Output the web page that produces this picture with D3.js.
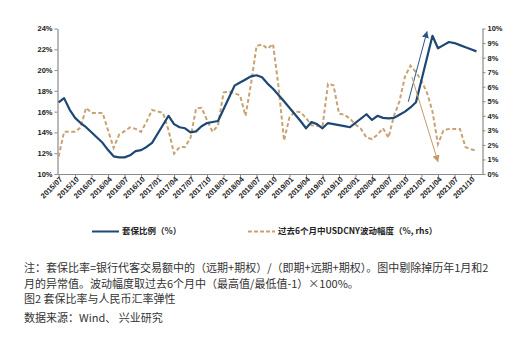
<!DOCTYPE html>
<html><head><meta charset="utf-8">
<script src="https://cdn.jsdelivr.net/npm/d3@7"></script>
<style>
body{margin:0;background:#fff;}
svg{display:block;}
</style></head>
<body>
<svg id="chart" width="532" height="341"></svg>
<script>
// Monthly data, 2015/07 .. 2021/11 (index 0 = 2015/07). Jan/Feb hedge ratio removed (null).
const hedgeRatio = [
  16.9,17.3,16.2,15.4,14.9,14.5,null,null,13.0,12.3,11.7,11.6,
  11.6,11.8,12.2,12.3,12.6,13.0,null,null,15.6,14.8,14.5,14.4,
  14.0,14.1,14.6,14.9,15.0,15.1,null,null,18.5,18.8,19.1,19.4,
  19.5,19.3,18.7,18.2,17.6,17.0,null,null,15.1,14.4,15.0,14.8,
  14.4,14.9,14.8,14.7,14.6,14.5,null,null,15.75,15.2,15.6,15.4,
  15.35,15.4,15.7,16.0,16.4,16.9,null,null,23.3,22.1,22.4,22.7,
  22.6,22.4,22.2,22.0,21.8
];
const usdcnyVol = [
  1.2,2.9,2.9,2.9,3.2,4.55,4.2,4.2,4.2,3.0,1.8,2.7,
  2.95,3.2,3.1,2.9,3.6,4.4,4.3,4.2,3.0,1.4,1.85,1.85,
  2.5,4.5,4.55,3.7,2.9,3.35,5.6,5.68,5.55,5.4,4.0,6.2,
  8.8,8.9,8.62,8.94,6.0,2.3,3.9,4.3,4.25,3.85,3.35,3.3,
  3.26,6.2,6.1,4.15,4.07,3.8,3.4,3.1,2.5,2.4,2.7,3.15,
  2.5,4.0,5.0,6.7,7.45,7.0,6.4,5.6,4.3,2.05,3.0,3.1,
  3.1,3.1,1.85,1.7,1.6
];
const xTickLabels = ["2015/07","2015/10","2016/01","2016/04","2016/07","2016/10","2017/01","2017/04","2017/07","2017/10","2018/01","2018/04","2018/07","2018/10","2019/01","2019/04","2019/07","2019/10","2020/01","2020/04","2020/07","2020/10","2021/01","2021/04","2021/07","2021/10"];
const leftTicks = [10,12,14,16,18,20,22,24];
const rightTicks = [0,1,2,3,4,5,6,7,8,9,10];
const seriesNames = ["套保比例（%）","过去6个月中USDCNY波动幅度（%, rhs）"];
// annotation arrows: [month index, value] start -> end
const blueArrow = [[63.6,16.95],[67.0,23.7]];
const orangeArrow = [[64.25,6.67],[69.0,0.85]];
const notes = [
  "注：套保比率=银行代客交易额中的（远期+期权）/（即期+远期+期权）。图中剔除掉历年1月和2",
  "月的异常值。波动幅度取过去6个月中（最高值/最低值-1）×100%。",
  "图2 套保比率与人民币汇率弹性",
  "数据来源：Wind、 兴业研究"
];

const BLUE = "#1d4775", ORANGE = "#c9a273", AXIS = "#8a8a8a";
const svg = d3.select("#chart");
const pL = 57.5, pR = 482.5, pT = 28.5, pB = 174;

const x = d3.scaleLinear().domain([-0.2, 77.1]).range([pL, pR]);
const yL = d3.scaleLinear().domain([10, 24]).range([pB, pT]);
const yR = d3.scaleLinear().domain([0, 10]).range([pB, pT]);

const fontLat = "Arial, 'Liberation Sans', sans-serif";

const gL = svg.append("g").attr("transform", `translate(${pL},0)`)
  .call(d3.axisLeft(yL).tickValues(leftTicks).tickFormat(d => d + "%").tickSize(3).tickSizeOuter(0));
const gR = svg.append("g").attr("transform", `translate(${pR},0)`)
  .call(d3.axisRight(yR).tickValues(rightTicks).tickFormat(d => d + "%").tickSize(3).tickSizeOuter(0));
const xTickVals = xTickLabels.map((d, i) => i * 3);
const gB = svg.append("g").attr("transform", `translate(0,${pB})`)
  .call(d3.axisBottom(x).tickValues(xTickVals).tickFormat((d, i) => xTickLabels[i]).tickSize(3).tickSizeOuter(0));
gB.select(".domain").attr("d", `M${pL},0.5H${pR}`);

[gL, gR, gB].forEach(g => {
  g.selectAll(".domain").attr("stroke", AXIS).attr("stroke-width", 1.2);
  g.selectAll(".tick line").attr("stroke", AXIS);
  g.selectAll("text").attr("fill", "#222").style("font-family", fontLat)
    .style("font-weight", "bold").style("font-size", "7.5px");
});
gL.selectAll("text").attr("x", -5);
gR.selectAll("text").attr("x", 5);
gB.selectAll("text")
  .attr("text-anchor", "end")
  .attr("transform", "translate(2,4) rotate(-45)")
  .attr("dy", "0.35em").attr("y", 0).attr("x", 0);

const blueData = hedgeRatio.map((v, i) => [i, v]).filter(d => d[1] !== null);
const lineL = d3.line().x(d => x(d[0])).y(d => yL(d[1]));
const lineR = d3.line().x(d => x(d[0])).y(d => yR(d[1]));
svg.append("path").datum(usdcnyVol.map((v, i) => [i, v]))
  .attr("d", lineR).attr("fill", "none").attr("stroke", ORANGE)
  .attr("stroke-width", 2).attr("stroke-dasharray", "4,2.5");
svg.append("path").datum(blueData)
  .attr("d", lineL).attr("fill", "none").attr("stroke", BLUE)
  .attr("stroke-width", 2.2).attr("stroke-linejoin", "round");

const defs = svg.append("defs");
[["arrB", "#2e5585"], ["arrO", "#c49a68"]].forEach(([id, c]) => {
  defs.append("marker").attr("id", id).attr("viewBox", "0 0 10 10")
    .attr("refX", 9).attr("refY", 5).attr("markerWidth", 7).attr("markerHeight", 7)
    .attr("markerUnits", "userSpaceOnUse").attr("orient", "auto")
    .append("path").attr("d", "M0,0L10,5L0,10z").attr("fill", c);
});
svg.append("line")
  .attr("x1", x(blueArrow[0][0])).attr("y1", yL(blueArrow[0][1]))
  .attr("x2", x(blueArrow[1][0])).attr("y2", yL(blueArrow[1][1]))
  .attr("stroke", "#2e5585").attr("stroke-width", 1).attr("marker-end", "url(#arrB)");
svg.append("line")
  .attr("x1", x(orangeArrow[0][0])).attr("y1", yR(orangeArrow[0][1]))
  .attr("x2", x(orangeArrow[1][0])).attr("y2", yR(orangeArrow[1][1]))
  .attr("stroke", "#c49a68").attr("stroke-width", 1).attr("marker-end", "url(#arrO)");

const cjk = "'Noto Sans CJK SC', sans-serif";
const legY = 231.5;
const leg = svg.append("g");
leg.append("line").attr("x1", 92).attr("x2", 119).attr("y1", legY).attr("y2", legY)
  .attr("stroke", BLUE).attr("stroke-width", 2);
leg.append("text").attr("x", 122).attr("y", legY).attr("dy", "0.35em")
  .style("font-family", cjk).style("font-weight", "bold").style("font-size", "8.5px")
  .attr("fill", "#222").text(seriesNames[0]);
leg.append("line").attr("x1", 248).attr("x2", 275).attr("y1", legY).attr("y2", legY)
  .attr("stroke", ORANGE).attr("stroke-width", 2).attr("stroke-dasharray", "4,2");
leg.append("text").attr("x", 278).attr("y", legY).attr("dy", "0.35em")
  .style("font-family", cjk).style("font-weight", "bold").style("font-size", "8.5px")
  .attr("fill", "#222").text(seriesNames[1]);

const noteY = [268.5, 284.5, 299, 318];
svg.append("g").selectAll("text").data(notes).join("text")
  .attr("x", 24).attr("y", (d, i) => noteY[i]).attr("dy", "0.35em")
  .style("font-family", cjk).style("font-size", "11px").attr("fill", "#333")
  .text(d => d);
</script>
</body></html>
